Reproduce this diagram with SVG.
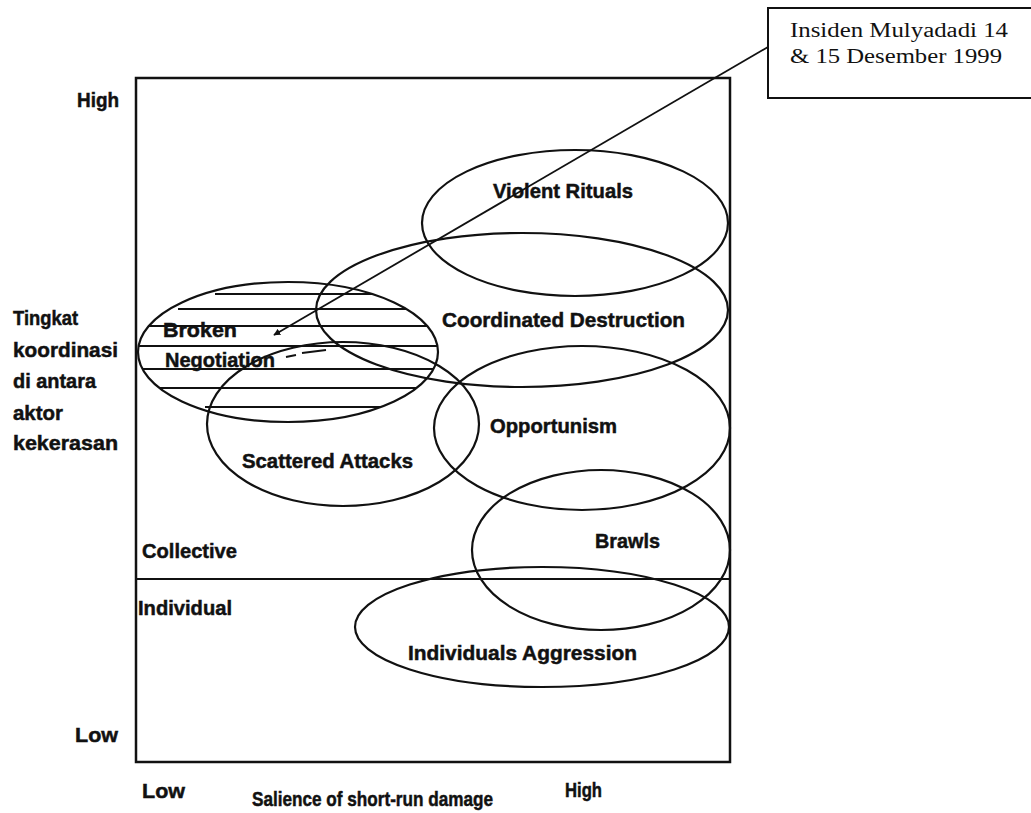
<svg xmlns="http://www.w3.org/2000/svg" width="1031" height="813" viewBox="0 0 1031 813">
<style>
.ell{fill:none;stroke:#111;stroke-width:2.2}
.lbl{font-family:"Liberation Sans",Arial,sans-serif;font-weight:bold;font-size:21px;fill:#111;stroke:#111;stroke-width:0.5}
.ax{font-family:"Liberation Sans",Arial,sans-serif;font-weight:bold;font-size:21px;fill:#111;stroke:#111;stroke-width:0.5}
.note{font-family:"Liberation Serif","Times New Roman",serif;font-size:20px;fill:#111}
.hatch{stroke:#111;stroke-width:2}
.frame{fill:none;stroke:#111;stroke-width:2.5}
</style>
<defs>
<marker id="ah" viewBox="0 0 10 10" refX="9" refY="5" markerWidth="7" markerHeight="7" orient="auto" markerUnits="userSpaceOnUse">
<path d="M0,0 L10,5 L0,10 z" fill="#111"/>
</marker>
<clipPath id="bnclip"><ellipse cx="288" cy="352" rx="150" ry="70"/></clipPath>
</defs>
<rect width="1031" height="813" fill="#fff"/>
<g id="frame">
<rect class="frame" x="136" y="78" width="594" height="684"/>
<line x1="136" y1="579" x2="730" y2="579" stroke="#111" stroke-width="2"/>
</g>
<g id="axis-labels">
<text class="ax" x="77" y="107" textLength="42" lengthAdjust="spacingAndGlyphs">High</text>
<text class="ax" x="75" y="742" textLength="43" lengthAdjust="spacingAndGlyphs">Low</text>
<text class="ax" x="142" y="798" textLength="43" lengthAdjust="spacingAndGlyphs">Low</text>
<text class="ax" x="565" y="797" textLength="37" lengthAdjust="spacingAndGlyphs">High</text>
<text class="ax" x="252" y="806" textLength="241" lengthAdjust="spacingAndGlyphs">Salience of short-run damage</text>
<text class="ax" x="13" y="325" textLength="65" lengthAdjust="spacingAndGlyphs">Tingkat</text>
<text class="ax" x="13" y="357" textLength="105" lengthAdjust="spacingAndGlyphs">koordinasi</text>
<text class="ax" x="13" y="388" textLength="83" lengthAdjust="spacingAndGlyphs">di antara</text>
<text class="ax" x="13" y="420" textLength="50" lengthAdjust="spacingAndGlyphs">aktor</text>
<text class="ax" x="13" y="450" textLength="105" lengthAdjust="spacingAndGlyphs">kekerasan</text>
<text class="ax" x="142" y="558" textLength="95" lengthAdjust="spacingAndGlyphs">Collective</text>
<text class="ax" x="138" y="615" textLength="94" lengthAdjust="spacingAndGlyphs">Individual</text>
</g>
<g id="node-violent-rituals">
<ellipse class="ell" cx="575" cy="223" rx="153" ry="73"/>
<text class="lbl" x="493" y="198" textLength="140" lengthAdjust="spacingAndGlyphs">Violent Rituals</text>
</g>
<g id="node-coordinated-destruction">
<ellipse class="ell" cx="522" cy="310" rx="206" ry="77"/>
<text class="lbl" x="442" y="327" textLength="243" lengthAdjust="spacingAndGlyphs">Coordinated Destruction</text>
</g>
<g id="node-broken-negotiation">
<g clip-path="url(#bnclip)">
<line class="hatch" x1="215" y1="294" x2="440" y2="294"/>
<line class="hatch" x1="178" y1="309" x2="440" y2="309"/>
<line class="hatch" x1="138" y1="326" x2="440" y2="326"/>
<line class="hatch" x1="138" y1="346" x2="440" y2="346"/>
<line class="hatch" x1="138" y1="369" x2="440" y2="369"/>
<line class="hatch" x1="160" y1="388" x2="440" y2="388"/>
<line class="hatch" x1="205" y1="407" x2="440" y2="407"/>
</g>
<ellipse class="ell" cx="288" cy="352" rx="150" ry="70"/>
<text class="lbl" x="163" y="337" textLength="74" lengthAdjust="spacingAndGlyphs">Broken</text>
<text class="lbl" x="165" y="367" textLength="110" lengthAdjust="spacingAndGlyphs">Negotiation</text>
</g>
<g id="node-scattered-attacks">
<ellipse class="ell" cx="343" cy="424" rx="136" ry="82"/>
<text class="lbl" x="242" y="468" textLength="171" lengthAdjust="spacingAndGlyphs">Scattered Attacks</text>
</g>
<g id="node-opportunism">
<ellipse class="ell" cx="582" cy="428" rx="148" ry="82"/>
<text class="lbl" x="490" y="433" textLength="127" lengthAdjust="spacingAndGlyphs">Opportunism</text>
</g>
<g id="node-brawls">
<ellipse class="ell" cx="601" cy="550" rx="129" ry="80"/>
<text class="lbl" x="595" y="548" textLength="65" lengthAdjust="spacingAndGlyphs">Brawls</text>
</g>
<g id="node-individuals-aggression">
<ellipse class="ell" cx="542" cy="627" rx="187" ry="60"/>
<text class="lbl" x="408" y="660" textLength="229" lengthAdjust="spacingAndGlyphs">Individuals Aggression</text>
</g>
<g id="node-note">
<rect x="768" y="8" width="270" height="90" fill="#fff" stroke="#111" stroke-width="2"/>
<text class="note" x="790" y="37" textLength="218" lengthAdjust="spacingAndGlyphs">Insiden Mulyadadi 14</text>
<text class="note" x="790" y="63" textLength="212" lengthAdjust="spacingAndGlyphs">&amp; 15 Desember 1999</text>
</g>
<g id="connectors">
<line x1="768" y1="47" x2="274" y2="335" stroke="#111" stroke-width="1.8" marker-end="url(#ah)"/>
<path d="M286 357 L296 355 M302 353 L326 350" stroke="#111" stroke-width="1.8" fill="none"/>
</g>
</svg>
